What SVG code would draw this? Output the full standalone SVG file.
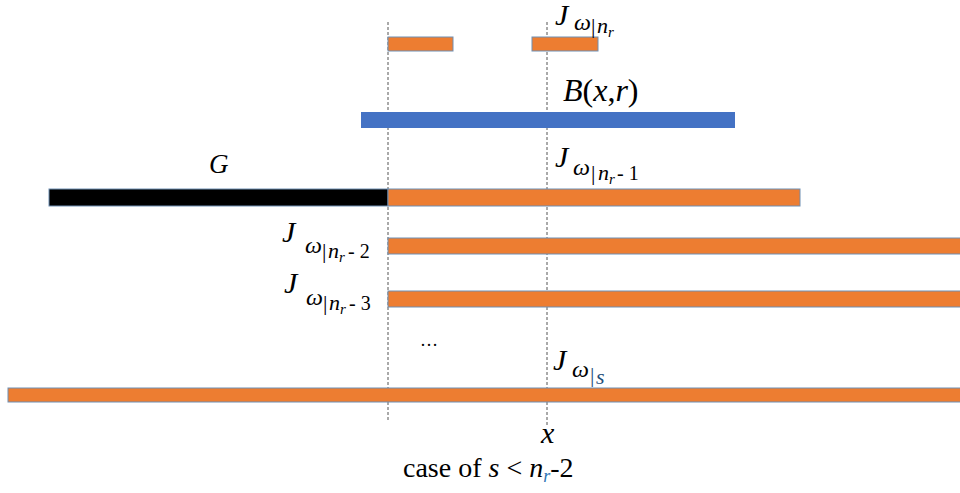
<svg xmlns="http://www.w3.org/2000/svg" width="960" height="493" viewBox="0 0 960 493">
<rect width="960" height="493" fill="#fff"/>
<g id="connectors" stroke="#555" stroke-width="1" stroke-dasharray="3 2" fill="none">
<line x1="388" y1="22" x2="388" y2="420"/>
<line x1="547" y1="22" x2="547" y2="425"/>
</g>
<g id="J_nr">
<rect fill="#ED7D31" stroke="#6E8FB3" x="388" y="37" width="65" height="14"/>
<rect fill="#ED7D31" stroke="#6E8FB3" x="532" y="37" width="66" height="14"/>
<text style="font-family:'Liberation Serif',serif;font-style:italic;font-size:30px" x="555" y="25">J</text>
<text style="font-family:'Liberation Serif',serif;font-style:italic;font-size:24px" x="574" y="30">ω</text>
<text style="font-family:'Liberation Serif',serif;font-size:22px" x="591" y="33">|</text>
<text style="font-family:'Liberation Serif',serif;font-style:italic;font-size:22px" x="597" y="33">n</text>
<text style="font-family:'Liberation Serif',serif;font-style:italic;font-size:15px" x="608" y="37">r</text>
</g>
<g id="B">
<rect fill="#4472C4" x="361" y="112" width="374" height="16"/>
<text style="font-family:'Liberation Serif',serif;font-size:32px" x="563" y="101"><tspan style="font-style:italic">B</tspan>(<tspan style="font-style:italic">x</tspan>,<tspan style="font-style:italic">r</tspan>)</text>
</g>
<g id="G">
<rect fill="#000" stroke="#6E8FB3" x="49" y="189" width="339" height="17"/>
<text style="font-family:'Liberation Serif',serif;font-style:italic;font-size:27px" x="209" y="173">G</text>
</g>
<g id="J_nr1">
<rect fill="#ED7D31" stroke="#6E8FB3" x="388" y="189" width="412" height="17"/>
<text style="font-family:'Liberation Serif',serif;font-style:italic;font-size:30px" x="555" y="167">J</text>
<text style="font-family:'Liberation Serif',serif;font-style:italic;font-size:24px" x="573" y="175">ω</text>
<text style="font-family:'Liberation Serif',serif;font-size:22px" x="591" y="180">|</text>
<text style="font-family:'Liberation Serif',serif;font-style:italic;font-size:22px" x="598" y="180">n</text>
<text style="font-family:'Liberation Serif',serif;font-style:italic;font-size:15px" x="609" y="184">r</text>
<text style="font-family:'Liberation Serif',serif;font-size:20px" x="617" y="180">- 1</text>
</g>
<g id="J_nr2">
<rect fill="#ED7D31" stroke="#6E8FB3" x="388" y="238" width="573" height="16"/>
<text style="font-family:'Liberation Serif',serif;font-style:italic;font-size:30px" x="282" y="242">J</text>
<text style="font-family:'Liberation Serif',serif;font-style:italic;font-size:24px" x="305" y="253">ω</text>
<text style="font-family:'Liberation Serif',serif;font-size:22px" x="322" y="258">|</text>
<text style="font-family:'Liberation Serif',serif;font-style:italic;font-size:22px" x="328" y="258">n</text>
<text style="font-family:'Liberation Serif',serif;font-style:italic;font-size:15px" x="339" y="262">r</text>
<text style="font-family:'Liberation Serif',serif;font-size:20px" x="348" y="258">- 2</text>
</g>
<g id="J_nr3">
<rect fill="#ED7D31" stroke="#6E8FB3" x="388" y="291" width="573" height="16"/>
<text style="font-family:'Liberation Serif',serif;font-style:italic;font-size:30px" x="284" y="293">J</text>
<text style="font-family:'Liberation Serif',serif;font-style:italic;font-size:24px" x="306" y="305">ω</text>
<text style="font-family:'Liberation Serif',serif;font-size:22px" x="323" y="310">|</text>
<text style="font-family:'Liberation Serif',serif;font-style:italic;font-size:22px" x="329" y="310">n</text>
<text style="font-family:'Liberation Serif',serif;font-style:italic;font-size:15px" x="340" y="314">r</text>
<text style="font-family:'Liberation Serif',serif;font-size:20px" x="349" y="310">- 3</text>
</g>
<g id="dots">
<text style="font-family:'Liberation Serif',serif;font-size:18px" x="420" y="346">…</text>
</g>
<g id="J_s">
<rect fill="#ED7D31" stroke="#6E8FB3" x="8" y="388" width="953" height="14"/>
<text style="font-family:'Liberation Serif',serif;font-style:italic;font-size:30px" x="553" y="370">J</text>
<text style="font-family:'Liberation Serif',serif;font-style:italic;font-size:24px" x="572" y="377">ω</text>
<text style="font-family:'Liberation Serif',serif;font-size:22px;fill:#1F4E79" x="590" y="382">|</text>
<text style="font-family:'Liberation Serif',serif;font-style:italic;font-size:22px;fill:#1F4E79" x="596" y="384">s</text>
</g>
<g id="x">
<text style="font-family:'Liberation Serif',serif;font-style:italic;font-size:30px" x="541" y="443">x</text>
</g>
<g id="caption">
<text style="font-family:'Liberation Serif',serif;font-size:28px" x="403" y="477">case of <tspan style="font-style:italic">s</tspan> &lt; <tspan style="font-style:italic">n</tspan><tspan style="font-style:italic;font-size:18px;fill:#2E75B6" dy="5">r</tspan><tspan dy="-5">-2</tspan></text>
</g>
</svg>
